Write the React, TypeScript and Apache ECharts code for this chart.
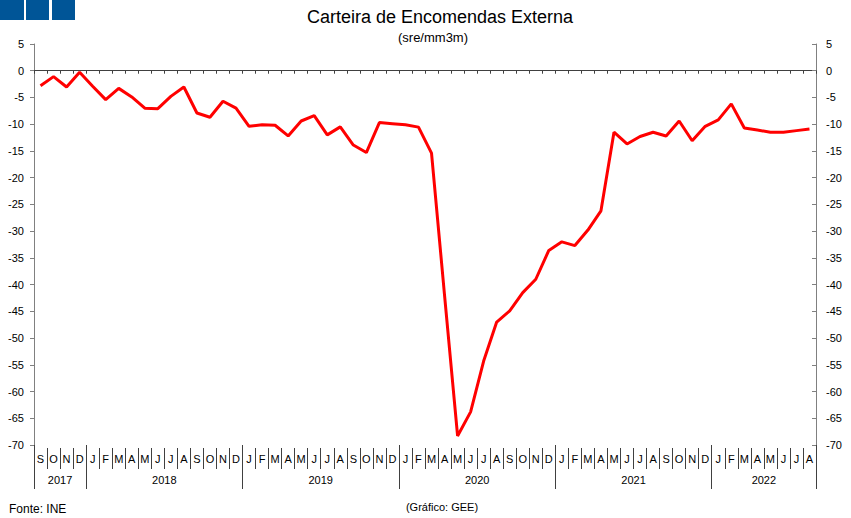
import React, { useEffect, useRef } from "react";
import * as echarts from "echarts";

// ---- data ----
const monthLetters = ["J", "F", "M", "A", "M", "J", "J", "A", "S", "O", "N", "D"];
const years = ["2017", "2018", "2019", "2020", "2021", "2022"];
const monthsPerYear = [4, 12, 12, 12, 12, 8];
const firstMonthOffset = 8; // series starts in September 2017

const values2017 = [-2.8, -1.1, -3.05, -0.3];
const values2018 = [-2.9, -5.4, -3.3, -4.9, -7.0, -7.1, -4.8, -3.05, -7.9, -8.7, -5.7, -7.0];
const values2019 = [-10.4, -10.1, -10.2, -12.2, -9.4, -8.4, -12.0, -10.5, -13.9, -15.3, -9.7, -9.9];
const values2020 = [-10.1, -10.55, -15.4, -42.0, -68.3, -63.8, -54.3, -47.0, -44.9, -41.5, -39.0, -33.6];
const values2021 = [-32.0, -32.7, -29.8, -26.2, -11.5, -13.7, -12.3, -11.5, -12.2, -9.4, -13.1, -10.4];
const values2022 = [-9.2, -6.2, -10.7, -11.1, -11.5, -11.5, -11.2, -10.9];

const yTicks = { min: -70, max: 5, interval: 5 };

const titleText = "Carteira de Encomendas Externa";
const subtitleText = "(sre/mm3m)";
const sourceText = "Fonte: INE";
const creditText = "(Gráfico: GEE)";

// ---- derived ----
const values = [...values2017, ...values2018, ...values2019, ...values2020, ...values2021, ...values2022];
const categories: string[] = [];
{
  let m = firstMonthOffset;
  monthsPerYear.forEach((n, yi) => {
    for (let k = 0; k < n; k++) {
      categories.push(years[yi] + "-" + (m + 1));
      m = (m + 1) % 12;
    }
    m = 0;
  });
}
const monthLabelOf = (c: string) => monthLetters[parseInt(c.split("-")[1], 10) - 1];
const yearBounds: number[] = [0];
monthsPerYear.forEach((n) => yearBounds.push(yearBounds[yearBounds.length - 1] + n));
const yearMids = monthsPerYear.map((n, i) => yearBounds[i] + n / 2);
const yearAtMid: Record<string, string> = {};
yearMids.forEach((v, i) => (yearAtMid[String(v)] = years[i]));

const FONT = "'Liberation Sans', Arial, sans-serif";

export default function App() {
  const ref = useRef<HTMLDivElement>(null);
  useEffect(() => {
    if (!ref.current) return;
    const chart = echarts.init(ref.current, undefined, { renderer: "svg" });
    const option: any = {
      animation: false,
      backgroundColor: "#ffffff",
      textStyle: { fontFamily: FONT },
      title: [
        {
          text: titleText,
          left: 435,
          top: 3,
          textAlign: "center",
          textStyle: { fontFamily: FONT, fontSize: 18, fontWeight: "normal", color: "#000" },
        },
        {
          text: subtitleText,
          left: 428,
          top: 26,
          textAlign: "center",
          textStyle: { fontFamily: FONT, fontSize: 13, fontWeight: "normal", color: "#000" },
        },
        {
          text: creditText,
          left: 437,
          top: 496,
          textAlign: "center",
          textStyle: { fontFamily: FONT, fontSize: 11, fontWeight: "normal", color: "#000" },
        },
        {
          text: sourceText,
          left: 4,
          top: 498,
          textStyle: { fontFamily: FONT, fontSize: 12, fontWeight: "normal", color: "#000" },
        },
      ],
      graphic: [
        { type: "rect", shape: { x: 0, y: 0, width: 24, height: 20 }, style: { fill: "#005597" } },
        { type: "rect", shape: { x: 26, y: 0, width: 23, height: 20 }, style: { fill: "#005597" } },
        { type: "rect", shape: { x: 52, y: 0, width: 23, height: 20 }, style: { fill: "#005597" } },
      ],
      grid: { left: 34, right: 35, top: 44, bottom: 73, containLabel: false },
      xAxis: [
        {
          type: "category",
          data: categories,
          position: "bottom",
          boundaryGap: true,
          axisLine: { show: true, onZero: true, lineStyle: { color: "#404040", width: 1 } },
          axisTick: { show: true, interval: 0, length: 3, lineStyle: { color: "#404040" } },
          axisLabel: { show: false },
          splitLine: { show: false },
        },
        {
          type: "category",
          data: categories,
          position: "bottom",
          offset: 3,
          boundaryGap: true,
          axisLine: { show: false, onZero: false },
          axisTick: { show: true, interval: 0, length: 21, lineStyle: { color: "#404040" } },
          axisLabel: {
            show: true,
            interval: 0,
            margin: 5,
            fontSize: 11,
            color: "#000",
            fontFamily: FONT,
            formatter: (v: string) => monthLabelOf(v),
          },
          splitLine: { show: false },
        },
        {
          type: "value",
          min: 0,
          max: yearBounds[yearBounds.length - 1],
          position: "bottom",
          offset: 0,
          axisLine: { show: false, onZero: false },
          axisTick: { show: true, length: 44, customValues: yearBounds, lineStyle: { color: "#404040" } },
          axisLabel: {
            show: true,
            customValues: yearMids,
            margin: 29,
            fontSize: 11,
            color: "#000",
            fontFamily: FONT,
            formatter: (v: number) => yearAtMid[String(v)] ?? "",
          },
          splitLine: { show: false },
        },
      ],
      yAxis: [
        {
          type: "value",
          position: "left",
          min: yTicks.min,
          max: yTicks.max,
          interval: yTicks.interval,
          axisLine: { show: true, onZero: false, lineStyle: { color: "#808080" } },
          axisTick: { show: true, length: 4, lineStyle: { color: "#808080" } },
          axisLabel: { margin: 10, fontSize: 11, color: "#000", fontFamily: FONT },
          splitLine: { show: false },
        },
        {
          type: "value",
          position: "right",
          min: yTicks.min,
          max: yTicks.max,
          interval: yTicks.interval,
          axisLine: { show: true, onZero: false, lineStyle: { color: "#808080" } },
          axisTick: { show: true, inside: true, length: 4, lineStyle: { color: "#808080" } },
          axisLabel: { margin: 10, fontSize: 11, color: "#000", fontFamily: FONT },
          splitLine: { show: false },
        },
      ],
      series: [
        {
          type: "line",
          xAxisIndex: 0,
          yAxisIndex: 0,
          data: values,
          showSymbol: false,
          symbol: "none",
          lineStyle: { color: "#ff0000", width: 3 },
          z: 5,
        },
      ],
    };
    chart.setOption(option);
    return () => chart.dispose();
  }, []);
  return (
    <div
      ref={ref}
      style={{ position: "absolute", left: 0, top: 0, width: 851, height: 518 }}
    />
  );
}
